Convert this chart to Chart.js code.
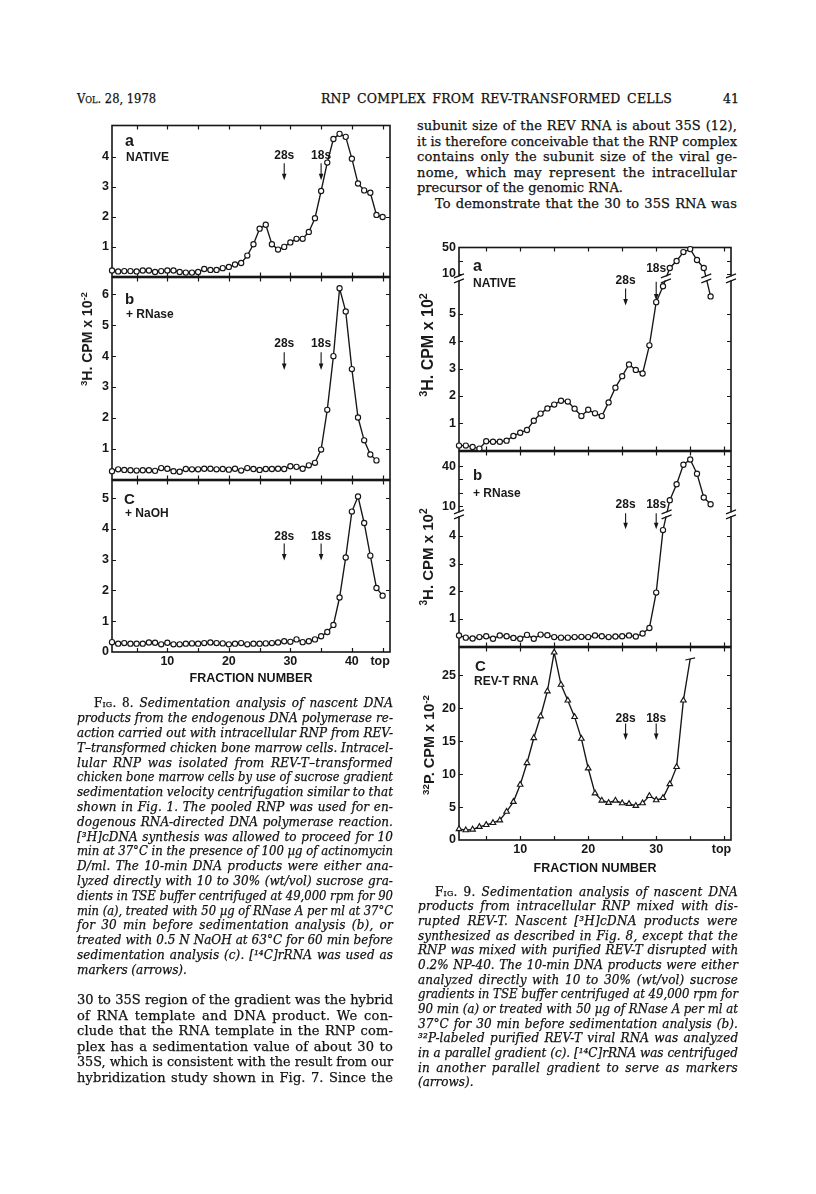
<!DOCTYPE html>
<html><head><meta charset="utf-8">
<title>RNP complex from REV-transformed cells</title>
<script src="https://cdn.jsdelivr.net/npm/chart.js@4.4.1/dist/chart.umd.min.js"></script>
<style>
html,body{margin:0;padding:0;background:#fff;}
body{position:relative;width:816px;height:1194px;overflow:hidden;color:#111;font-family:"DejaVu Serif","Liberation Serif",serif;}
.ln{position:absolute;white-space:pre;line-height:16px;transform-origin:0 50%;-webkit-text-stroke:0.25px #111;}
.bd{font-size:13px;}
.cp{font-size:12px;font-style:italic;}
.hd{font-size:12.5px;}
.sc{font-style:normal;font-variant:small-caps;}
canvas{position:absolute;}
.lb{position:absolute;font-family:"Liberation Sans",Arial,sans-serif;font-weight:bold;white-space:nowrap;line-height:1;color:#1a1a1a;}
.yt{position:absolute;font-family:"Liberation Sans",Arial,sans-serif;font-weight:bold;white-space:nowrap;line-height:1;color:#1a1a1a;transform:translate(-50%,-50%) rotate(-90deg);}
.yt sup{font-size:0.68em;vertical-align:0;position:relative;top:-0.55em;}
</style></head><body>
<script>
// ---------------- DATA ----------------
const fig8Fractions = [1,2,3,4,5,6,7,8,9,10,11,12,13,14,15,16,17,18,19,20,21,22,23,24,25,26,27,28,29,30,31,32,33,34,35,36,37,38,39,40,41,42,43,44,45];
const fig8aNative = [0.20,0.17,0.18,0.18,0.17,0.20,0.20,0.15,0.18,0.20,0.20,0.15,0.13,0.13,0.15,0.25,0.22,0.22,0.28,0.32,0.40,0.45,0.70,1.08,1.60,1.73,1.08,0.90,0.99,1.14,1.26,1.26,1.49,1.95,2.86,3.81,4.60,4.77,4.67,3.94,3.11,2.88,2.80,2.06,1.99];
const fig8bRNase = [0.27,0.33,0.31,0.30,0.29,0.30,0.30,0.28,0.37,0.35,0.27,0.25,0.34,0.33,0.33,0.35,0.35,0.33,0.34,0.32,0.35,0.29,0.37,0.34,0.31,0.34,0.34,0.35,0.34,0.43,0.41,0.35,0.46,0.54,0.97,2.26,4.00,6.20,5.45,3.58,2.01,1.27,0.81,0.62];
const fig8cNaOH = [0.32,0.27,0.29,0.27,0.27,0.27,0.31,0.30,0.25,0.30,0.25,0.25,0.27,0.28,0.27,0.29,0.31,0.29,0.28,0.25,0.27,0.29,0.25,0.27,0.27,0.28,0.29,0.31,0.35,0.33,0.41,0.32,0.35,0.41,0.51,0.65,0.88,1.77,3.07,4.56,5.05,4.19,3.13,2.08,1.83];
const fig8Markers = [{label:'28s', fraction:29}, {label:'18s', fraction:35}];
const fig8XTickValues = [10,20,30,40,44.6];
const fig8XTickLabels = ['10','20','30','40','top'];

const fig9Fractions = [1,2,3,4,5,6,7,8,9,10,11,12,13,14,15,16,17,18,19,20,21,22,23,24,25,26,27,28,29,30,31,32,33,34,35,36,37,38];
const fig9aNative = [0.18,0.18,0.13,0.07,0.34,0.32,0.32,0.36,0.53,0.65,0.75,1.09,1.35,1.54,1.68,1.82,1.79,1.53,1.26,1.49,1.36,1.26,1.76,2.30,2.72,3.15,2.95,2.82,3.85,5.43,6.01,19,29.5,43,47.5,31,19,5.64];
const fig9bRNase = [0.40,0.32,0.29,0.34,0.37,0.28,0.40,0.37,0.31,0.28,0.42,0.28,0.43,0.41,0.34,0.32,0.32,0.34,0.35,0.34,0.40,0.37,0.34,0.36,0.37,0.40,0.36,0.47,0.67,1.95,4.21,14.5,26.4,41,44.9,34.3,16.5,11.5];
const fig9cFractions = [1,2,3,4,5,6,7,8,9,10,11,12,13,14,15,16,17,18,19,20,21,22,23,24,25,26,27,28,29,30,31,32,33,34,35];
const fig9cRevT = [1.67,1.5,1.6,2.0,2.3,2.6,3.0,4.3,5.8,8.4,11.7,15.5,18.8,22.6,28.5,23.6,21.2,18.7,15.4,10.9,7.1,6.0,5.66,6.0,5.6,5.5,5.2,5.6,6.7,6.06,6.4,8.5,11.1,21.2,27.5];
const fig9Markers = [{label:'28s', fraction:25.5}, {label:'18s', fraction:30}];
const fig9XTickValues = [10,20,30,39.6];
const fig9XTickLabels = ['10','20','30','top'];
const fig9aYLower = [1,2,3,4,5];
const fig9aYUpper = [10,30,50];
const fig9aYUpperLabels = ['10','','50'];
const fig9bYLower = [1,2,3,4];
const fig9bYUpper = [10,20,30,40];
const fig9bYUpperLabels = ['10','','','40'];

// ---------------- HELPERS ----------------
const INK = '#161616';
const SANS = '"Liberation Sans", Arial, sans-serif';

// broken-axis mappings (lower part linear, upper part compressed)
const brkA = v => v < 8 ? v : 6.462 + (v - 10) * 0.02424;
const brkB = v => v < 8 ? v : 5.072 + (v - 10) * 0.04835;

function brkMark(ctx, x, y) {
  ctx.save();
  ctx.fillStyle = '#fff';
  ctx.fillRect(x - 2.5, y - 2, 5, 4);
  ctx.strokeStyle = INK; ctx.lineWidth = 1.3;
  ctx.beginPath();
  ctx.moveTo(x - 5, y - 0.5); ctx.lineTo(x + 5, y - 4.5);
  ctx.moveTo(x - 5, y + 4.5); ctx.lineTo(x + 5, y + 0.5);
  ctx.stroke();
  ctx.restore();
}

function makeDecor(c) {
  return {
    id: 'decor',
    beforeDatasetsDraw(chart) {
      const {ctx, chartArea: a, scales: {x, y}} = chart;
      ctx.save();
      ctx.strokeStyle = INK; ctx.lineWidth = 1.6;
      ctx.strokeRect(a.left, a.top, a.right - a.left, a.bottom - a.top);
      ctx.lineWidth = 1.2;
      ctx.beginPath();
      c.xMarks.forEach(v => {
        const p = Math.round(x.getPixelForValue(v)) + 0.5;
        ctx.moveTo(p, a.top); ctx.lineTo(p, a.top + 4);
        ctx.moveTo(p, a.bottom); ctx.lineTo(p, a.bottom - 4);
      });
      c.yMarks.forEach(v => {
        const p = Math.round(y.getPixelForValue(v)) + 0.5;
        ctx.moveTo(a.left, p); ctx.lineTo(a.left + 4, p);
        ctx.moveTo(a.right, p); ctx.lineTo(a.right - 4, p);
      });
      ctx.stroke();
      if (c.brk != null) {
        const p = y.getPixelForValue(c.brk);
        brkMark(ctx, a.left, p); brkMark(ctx, a.right, p);
      }
      ctx.fillStyle = INK;
      ctx.font = 'bold 12px ' + SANS;
      ctx.textAlign = 'center'; ctx.textBaseline = 'middle';
      c.markers.forEach((m, i) => {
        const ay = c.arrowY[i] || c.arrowY[0];
        const px = x.getPixelForValue(m.fraction);
        ctx.fillText(m.label, px, y.getPixelForValue(ay.lab));
        const t = y.getPixelForValue(ay.top), b = y.getPixelForValue(ay.bot);
        ctx.lineWidth = 1.1;
        ctx.beginPath(); ctx.moveTo(px, t); ctx.lineTo(px, b - 3); ctx.stroke();
        ctx.beginPath(); ctx.moveTo(px - 2.3, b - 6.5); ctx.lineTo(px + 2.3, b - 6.5); ctx.lineTo(px, b); ctx.closePath(); ctx.fill();
      });
      ctx.restore();
    },
    afterDatasetsDraw(chart) {
      if (c.brk == null) return;
      const meta = chart.getDatasetMeta(0);
      const d = chart.data.datasets[0].data;
      for (let i = 0; i < d.length - 1; i++) {
        const a0 = d[i].y - c.brk, a1 = d[i + 1].y - c.brk;
        if (a0 * a1 < 0) {
          const t = a0 / (a0 - a1);
          const p0 = meta.data[i], p1 = meta.data[i + 1];
          brkMark(chart.ctx, p0.x + t * (p1.x - p0.x), p0.y + t * (p1.y - p0.y));
        }
      }
    }
  };
}

function panel(c) {
  const PT = 10, PR = 14, PB = 10, YW = 46;
  const xh = c.xh || 0;
  const cw = YW + c.w + PR, ch = PT + c.h + xh + PB;
  const cv = document.createElement('canvas');
  cv.width = cw; cv.height = ch;
  cv.style.left = (c.l - YW) + 'px'; cv.style.top = (c.t - PT) + 'px';
  cv.style.width = cw + 'px'; cv.style.height = ch + 'px';
  document.body.appendChild(cv);
  const tickFont = {family: SANS, weight: 'bold', size: 12.5};
  new Chart(cv, {
    type: 'line',
    data: {datasets: [{
      data: c.xs.map((f, i) => ({x: f, y: c.map ? c.map(c.ys[i]) : c.ys[i]})),
      borderColor: INK, borderWidth: 1.35, tension: 0, fill: false, clip: false,
      pointStyle: c.pointStyle || 'circle',
      pointRadius: c.pointRadius || 2.6,
      pointRotation: c.pointRotation || 0,
      pointBorderWidth: 1.15, pointBorderColor: INK, pointBackgroundColor: '#fff'
    }]},
    options: {
      responsive: false, animation: false, devicePixelRatio: 1,
      layout: {padding: {top: PT, right: PR, bottom: PB, left: 0}},
      plugins: {legend: {display: false}, tooltip: {enabled: false}},
      scales: {
        x: {
          type: 'linear', min: c.xmin, max: c.xmax, display: !!xh,
          grid: {display: false, drawTicks: false}, border: {display: false},
          afterBuildTicks: s => { s.ticks = (c.xTickValues || []).map(v => ({value: v})); },
          afterFit: s => { s.height = xh; },
          ticks: {autoSkip: false, maxRotation: 0, padding: 2, color: INK, font: tickFont,
            callback: v => { const k = (c.xTickValues || []).indexOf(v); return k >= 0 ? c.xTickLabels[k] : ''; }},
          title: {display: !!xh, text: 'FRACTION NUMBER', color: INK,
            font: {family: SANS, weight: 'bold', size: 12.5}, padding: {top: 0, bottom: 0}}
        },
        y: {
          type: 'linear', min: c.ymin, max: c.ymax,
          grid: {display: false, drawTicks: false}, border: {display: false},
          afterBuildTicks: s => { s.ticks = c.yTicks.map(t => ({value: t[0]})); },
          afterFit: s => { s.width = YW; },
          ticks: {autoSkip: false, padding: c.ypad, color: INK, font: tickFont,
            callback: v => { const t = c.yTicks.find(t => Math.abs(t[0] - v) < 1e-6); return t ? t[1] : ''; }}
        }
      }
    },
    plugins: [makeDecor(c)]
  });
}

// ---------------- FIGURE 8 ----------------
const x8 = {l: 112, w: 278, xmin: 1, xmax: 46.2, xMarks: [5,10,15,20,25,30,35,40,45], markers: fig8Markers, ypad: 3};
panel(Object.assign({}, x8, {t: 125, h: 152, ymin: 0, ymax: 5.05, xs: fig8Fractions, ys: fig8aNative,
  yTicks: [[1,'1'],[2,'2'],[3,'3'],[4,'4']], yMarks: [1,2,3,4],
  arrowY: [{lab: 4.03, top: 3.79, bot: 3.22}]}));
panel(Object.assign({}, x8, {t: 277, h: 203, ymin: 0, ymax: 6.55, xs: fig8Fractions.slice(0, fig8bRNase.length), ys: fig8bRNase,
  yTicks: [[1,'1'],[2,'2'],[3,'3'],[4,'4'],[5,'5'],[6,'6']], yMarks: [1,2,3,4,5,6],
  arrowY: [{lab: 4.42, top: 4.13, bot: 3.55}]}));
panel(Object.assign({}, x8, {t: 480, h: 172, ymin: 0, ymax: 5.57, xs: fig8Fractions, ys: fig8cNaOH, xh: 34,
  xTickValues: fig8XTickValues, xTickLabels: fig8XTickLabels,
  yTicks: [[0,'0'],[1,'1'],[2,'2'],[3,'3'],[4,'4'],[5,'5']], yMarks: [1,2,3,4,5],
  arrowY: [{lab: 3.74, top: 3.52, bot: 2.97}]}));

// ---------------- FIGURE 9 ----------------
const x9 = {l: 459, w: 272, xmin: 1, xmax: 41, xMarks: [5,10,15,20,25,30,35,40], markers: fig9Markers, ypad: 3};
panel(Object.assign({}, x9, {t: 247, h: 204, ymin: 0, ymax: 7.43, xs: fig9Fractions, ys: fig9aNative, map: brkA, brk: 6.3,
  yTicks: fig9aYLower.map(v => [v, String(v)]).concat(fig9aYUpper.map((v, i) => [brkA(v), fig9aYUpperLabels[i]])),
  yMarks: fig9aYLower.concat(fig9aYUpper.map(brkA)),
  arrowY: [{lab: 6.22, top: 5.93, bot: 5.31}, {lab: 6.64, top: 6.18, bot: 5.49}]}));
panel(Object.assign({}, x9, {t: 451, h: 196, ymin: 0, ymax: 7.05, xs: fig9Fractions, ys: fig9bRNase, map: brkB, brk: 4.78,
  yTicks: fig9bYLower.map(v => [v, String(v)]).concat(fig9bYUpper.map((v, i) => [brkB(v), fig9bYUpperLabels[i]])),
  yMarks: fig9bYLower.concat(fig9bYUpper.map(brkB)),
  arrowY: [{lab: 5.11, top: 4.82, bot: 4.24}]}));
panel(Object.assign({}, x9, {t: 647, h: 193, ymin: 0, ymax: 29.24, xs: fig9cFractions, ys: fig9cRevT, xh: 36,
  xTickValues: fig9XTickValues, xTickLabels: fig9XTickLabels,
  pointStyle: fig9cRevT.map((_, i) => i === fig9cRevT.length - 1 ? 'line' : 'triangle'),
  pointRadius: fig9cRevT.map((_, i) => i === fig9cRevT.length - 1 ? 5 : 3.2),
  pointRotation: fig9cRevT.map((_, i) => i === fig9cRevT.length - 1 ? -12 : 0),
  yTicks: [[0,'0'],[5,'5'],[10,'10'],[15,'15'],[20,'20'],[25,'25']], yMarks: [5,10,15,20,25],
  arrowY: [{lab: 18.5, top: 17.7, bot: 15.2}]}));

// ---------------- LABELS ----------------
function lab(html, left, top, size) {
  const d = document.createElement('div');
  d.className = 'lb'; d.innerHTML = html;
  d.style.left = left + 'px'; d.style.top = top + 'px'; d.style.fontSize = size + 'px';
  document.body.appendChild(d);
}
lab('a', 125, 133, 16); lab('NATIVE', 126, 151, 12);
lab('b', 125, 291, 15); lab('+ RNase', 126, 307.5, 12);
lab('C', 124, 490.5, 15); lab('+ NaOH', 125, 507, 12);
lab('a', 473, 258, 16); lab('NATIVE', 473, 277, 12);
lab('b', 473, 467, 15); lab('+ RNase', 473, 486.5, 12);
lab('C', 475, 657.5, 15); lab('REV-T RNA', 474, 675, 12);

function ytitle(html, cx, cy, size) {
  const d = document.createElement('div');
  d.className = 'yt'; d.innerHTML = html;
  d.style.left = cx + 'px'; d.style.top = cy + 'px'; d.style.fontSize = size + 'px';
  document.body.appendChild(d);
}
ytitle('<sup>3</sup>H. CPM x 10<sup>-2</sup>', 87, 339, 14);
ytitle('<sup>3</sup>H. CPM x 10<sup>2</sup>', 428, 345, 16);
ytitle('<sup>3</sup>H. CPM x 10<sup>2</sup>', 428, 557, 15);
ytitle('<sup>32</sup>P. CPM x 10<sup>-2</sup>', 429, 745, 14.5);

// ---------------- TEXT ----------------
function textBlock(lines, x, cy0, dy, w, cls) {
  lines.forEach((L, i) => {
    const d = document.createElement('div');
    d.className = 'ln ' + cls;
    const ind = L.ind || 0;
    d.style.left = (x + ind) + 'px';
    d.style.top = (cy0 + i * dy - 8) + 'px';
    d.innerHTML = L.t;
    document.body.appendChild(d);
    const nat = d.getBoundingClientRect().width;
    const target = w - ind;
    const txt = d.textContent;
    if (L.j !== false) {
      if (nat <= target) {
        const n = (txt.match(/ /g) || []).length;
        const extra = target - nat;
        const ls = Math.min(0.35, extra * 0.45 / txt.length);
        d.style.letterSpacing = ls + 'px';
        const rest = extra - ls * txt.length;
        if (n) d.style.wordSpacing = (rest / n) + 'px';
      } else d.style.transform = 'scaleX(' + (target / nat) + ')';
    } else if (nat > target) d.style.transform = 'scaleX(' + (target / nat) + ')';
  });
}

textBlock([{t: '<span class="sc">Vol.</span> 28, 1978'}], 77, 99, 0, 79, 'hd');
textBlock([{t: 'RNP COMPLEX FROM REV-TRANSFORMED CELLS'}], 321, 99, 0, 351, 'hd');
textBlock([{t: '41', j: false}], 723, 99, 0, 16, 'hd');

textBlock([
  {t: 'subunit size of the REV RNA is about 35S (12),'},
  {t: 'it is therefore conceivable that the RNP complex'},
  {t: 'contains only the subunit size of the viral ge-'},
  {t: 'nome, which may represent the intracellular'},
  {t: 'precursor of the genomic RNA.', j: false},
  {t: 'To demonstrate that the 30 to 35S RNA was', ind: 18}
], 417, 126, 15.6, 320, 'bd');

textBlock([
  {t: '<span class="sc">Fig. 8.</span> Sedimentation analysis of nascent DNA', ind: 17},
  {t: 'products from the endogenous DNA polymerase re-'},
  {t: 'action carried out with intracellular RNP from REV-'},
  {t: 'T–transformed chicken bone marrow cells. Intracel-'},
  {t: 'lular RNP was isolated from REV-T–transformed'},
  {t: 'chicken bone marrow cells by use of sucrose gradient'},
  {t: 'sedimentation velocity centrifugation similar to that'},
  {t: 'shown in Fig. 1. The pooled RNP was used for en-'},
  {t: 'dogenous RNA-directed DNA polymerase reaction.'},
  {t: '[³H]cDNA synthesis was allowed to proceed for 10'},
  {t: 'min at 37°C in the presence of 100 µg of actinomycin'},
  {t: 'D/ml. The 10-min DNA products were either ana-'},
  {t: 'lyzed directly with 10 to 30% (wt/vol) sucrose gra-'},
  {t: 'dients in TSE buffer centrifuged at 49,000 rpm for 90'},
  {t: 'min (a), treated with 50 µg of RNase A per ml at 37°C'},
  {t: 'for 30 min before sedimentation analysis (b), or'},
  {t: 'treated with 0.5 N NaOH at 63°C for 60 min before'},
  {t: 'sedimentation analysis (c). [¹⁴C]rRNA was used as'},
  {t: 'markers (arrows).', j: false}
], 77, 703.3, 14.8, 316, 'cp');

textBlock([
  {t: '30 to 35S region of the gradient was the hybrid'},
  {t: 'of RNA template and DNA product. We con-'},
  {t: 'clude that the RNA template in the RNP com-'},
  {t: 'plex has a sedimentation value of about 30 to'},
  {t: '35S, which is consistent with the result from our'},
  {t: 'hybridization study shown in Fig. 7. Since the'}
], 77, 1000, 15.55, 316, 'bd');

textBlock([
  {t: '<span class="sc">Fig. 9.</span> Sedimentation analysis of nascent DNA', ind: 17},
  {t: 'products from intracellular RNP mixed with dis-'},
  {t: 'rupted REV-T. Nascent [³H]cDNA products were'},
  {t: 'synthesized as described in Fig. 8, except that the'},
  {t: 'RNP was mixed with purified REV-T disrupted with'},
  {t: '0.2% NP-40. The 10-min DNA products were either'},
  {t: 'analyzed directly with 10 to 30% (wt/vol) sucrose'},
  {t: 'gradients in TSE buffer centrifuged at 49,000 rpm for'},
  {t: '90 min (a) or treated with 50 µg of RNase A per ml at'},
  {t: '37°C for 30 min before sedimentation analysis (b).'},
  {t: '³²P-labeled purified REV-T viral RNA was analyzed'},
  {t: 'in a parallel gradient (c). [¹⁴C]rRNA was centrifuged'},
  {t: 'in another parallel gradient to serve as markers'},
  {t: '(arrows).', j: false}
], 418, 891.7, 14.65, 320, 'cp');
</script>
</body></html>
